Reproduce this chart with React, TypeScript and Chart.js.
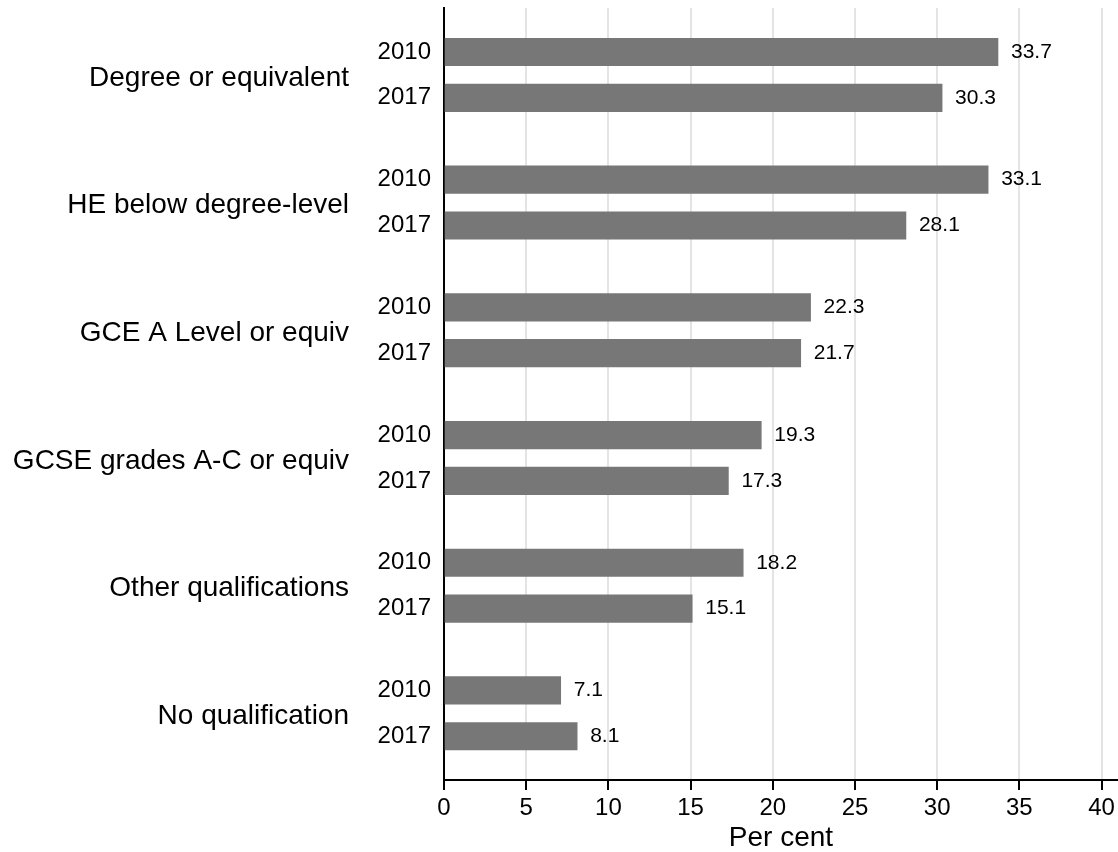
import React, { useEffect, useRef } from "react";
import { Chart, registerables } from "chart.js";

Chart.register(...registerables);

// ---- Data ----
const groups = [
  "Degree or equivalent",
  "HE below degree-level",
  "GCE A Level or equiv",
  "GCSE grades A-C or equiv",
  "Other qualifications",
  "No qualification",
];
const years = ["2010", "2017"];
const values2010 = [33.7, 33.1, 22.3, 19.3, 18.2, 7.1];
const values2017 = [30.3, 28.1, 21.7, 17.3, 15.1, 8.1];
const xTickStep = 5;
const xMin = 0;
const xMax = 41;
const xTitle = "Per cent";

// ---- Layout / style constants ----
const FONT = "'Liberation Sans', Arial, Helvetica, sans-serif";
const BAR_COLOR = "#777777";
const GRID_COLOR = "#e4e4e4";
const YEAR_HALF_GAP = 0.1795; // half distance between the two year bars (group units)
const Y_MIN = -0.524;
const Y_MAX = 5.522;
const PLOT_LEFT = 444;
const X_AXIS_HEIGHT = 72;

const seriesByYear = [values2010, values2017];
const rowPos = (g: number, k: number) => g + (k === 0 ? -YEAR_HALF_GAP : YEAR_HALF_GAP);

const labelPlugin = {
  id: "customLabels",
  afterDraw(chart: any) {
    const { ctx, chartArea } = chart;
    const yScale = chart.scales.y;
    ctx.save();
    ctx.fillStyle = "#000";
    ctx.textBaseline = "middle";
    // value labels
    ctx.font = `21px ${FONT}`;
    ctx.textAlign = "left";
    chart.data.datasets.forEach((ds: any, di: number) => {
      const meta = chart.getDatasetMeta(di);
      meta.data.forEach((bar: any, i: number) => {
        const v = ds.data[i].x as number;
        ctx.fillText(v.toFixed(1), bar.x + 13, bar.y);
      });
    });
    // group labels
    ctx.font = `28px ${FONT}`;
    ctx.textAlign = "right";
    groups.forEach((g, i) => {
      ctx.fillText(g, chartArea.left - 95, yScale.getPixelForValue(i) + 3);
    });
    ctx.restore();
  },
};

export default function App() {
  const canvasRef = useRef<HTMLCanvasElement | null>(null);

  useEffect(() => {
    if (!canvasRef.current) return;
    const chart = new Chart(canvasRef.current, {
      type: "bar",
      data: {
        datasets: years.map((yr, k) => ({
          label: yr,
          data: seriesByYear[k].map((v, g) => ({ x: v, y: rowPos(g, k) })),
          backgroundColor: BAR_COLOR,
          borderWidth: 0,
          barThickness: 27.5,
          grouped: false,
        })),
      },
      options: {
        indexAxis: "y",
        animation: false,
        responsive: false,
        layout: { padding: { top: 8, left: 0, right: 0, bottom: 0 } },
        plugins: {
          legend: { display: false },
          tooltip: { enabled: false },
        },
        scales: {
          y: {
            type: "linear",
            reverse: true,
            min: Y_MIN,
            max: Y_MAX,
            offset: false,
            z: 1,
            grid: { display: false, drawTicks: false, offset: false },
            border: { display: true, color: "#000", width: 2 },
            ticks: {
              autoSkip: false,
              color: "#000",
              font: { family: FONT, size: 24 },
              padding: 13,
              callback: (_v: any, index: number) => years[index % years.length],
            },
            afterBuildTicks: (s: any) => {
              s.ticks = groups.flatMap((_, g) => years.map((_y, k) => ({ value: rowPos(g, k) })));
            },
            afterFit: (s: any) => {
              s.width = PLOT_LEFT;
              s.paddingTop = 0;
              s.paddingBottom = 0;
            },
          },
          x: {
            type: "linear",
            position: "bottom",
            min: xMin,
            max: xMax,
            grid: {
              color: GRID_COLOR,
              lineWidth: 2,
              tickColor: "#000",
              tickLength: 10,
              tickWidth: 2,
            },
            border: { display: true, color: "#000", width: 2 },
            ticks: {
              stepSize: xTickStep,
              includeBounds: false,
              color: "#000",
              font: { family: FONT, size: 24 },
              padding: 4,
            },
            title: {
              display: true,
              text: xTitle,
              color: "#000",
              font: { family: FONT, size: 28, lineHeight: 1 },
              padding: { top: 0, bottom: 0 },
            },
            afterFit: (s: any) => {
              s.height = X_AXIS_HEIGHT;
              s.paddingLeft = 0;
              s.paddingRight = 0;
            },
          },
        },
      },
      plugins: [labelPlugin],
    } as any);
    return () => chart.destroy();
  }, []);

  return (
    <canvas
      ref={canvasRef}
      width={1118}
      height={852}
      style={{ position: "absolute", left: 0, top: 0, width: 1118, height: 852 }}
    />
  );
}
